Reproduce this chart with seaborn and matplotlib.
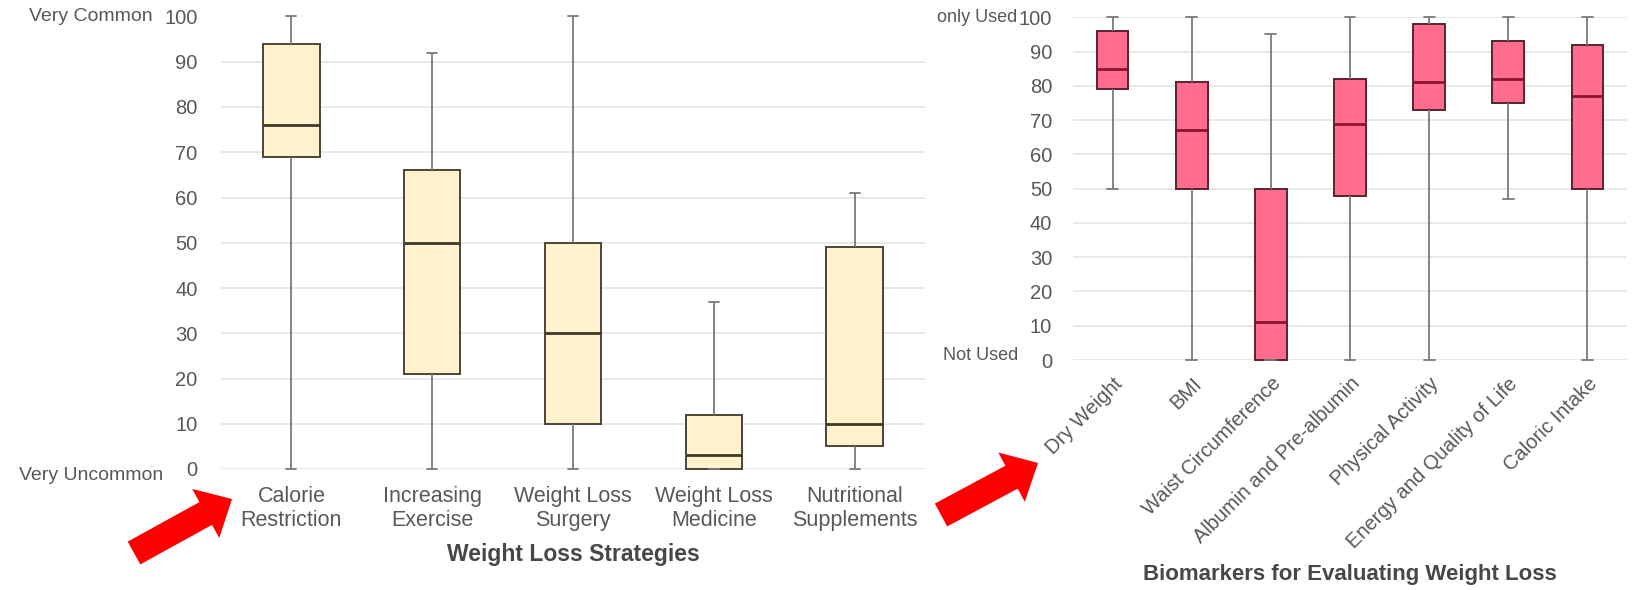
import matplotlib
matplotlib.use("Agg")
import matplotlib.pyplot as plt
from matplotlib.patches import FancyArrow
from matplotlib.transforms import IdentityTransform
import pandas as pd
import seaborn as sns

# Weight loss strategies: five-number summaries (0-100 scale)
strategies = ["Calorie\nRestriction", "Increasing\nExercise", "Weight Loss\nSurgery",
              "Weight Loss\nMedicine", "Nutritional\nSupplements"]
strat_min = [0, 0, 0, 0, 0]
strat_q1 = [69, 21, 10, 0, 5]
strat_med = [76, 50, 30, 3, 10]
strat_q3 = [94, 66, 50, 12, 49]
strat_max = [100, 92, 100, 37, 61]

# Biomarkers for evaluating weight loss: five-number summaries
biomarkers = ["Dry Weight", "BMI", "Waist Circumference", "Albumin and Pre-albumin",
              "Physical Activity", "Energy and Quality of Life", "Caloric Intake"]
bio_min = [50, 0, 0, 0, 0, 47, 0]
bio_q1 = [79, 50, 0, 48, 73, 75, 50]
bio_med = [85, 67, 11, 69, 81, 82, 77]
bio_q3 = [96, 81, 50, 82, 98, 93, 92]
bio_max = [100, 100, 95, 100, 100, 100, 100]

y_ticks = list(range(0, 101, 10))


def long_table(cats, lo, q1, med, q3, hi):
    rows = []
    for c, a, b, m, d, e in zip(cats, lo, q1, med, q3, hi):
        for v in (a, b, m, d, e):
            rows.append({"cat": c, "value": v})
    return pd.DataFrame(rows)


sns.set_theme(style="white")
plt.rcParams["font.family"] = ["Liberation Sans", "DejaVu Sans"]

fig = plt.figure(figsize=(16.4, 5.9), dpi=100)
ax1 = fig.add_axes([221 / 1640, 1 - 469 / 590, 704 / 1640, 452.5 / 590])
ax2 = fig.add_axes([1073 / 1640, 1 - 360 / 590, 554 / 1640, 342.7 / 590])

tick_color = "#585858"
label_color = "#474747"
whisk = dict(color="#7a7a7a", linewidth=1.3)


def draw(ax, df, order, fill, edge, median_color, cap_half):
    sns.boxplot(data=df, x="cat", y="value", order=order, ax=ax,
                whis=(0, 100), width=0.4, color=fill, saturation=1,
                linecolor=edge, linewidth=1.4, showfliers=False,
                medianprops=dict(color=median_color, linewidth=2),
                whiskerprops=whisk, capprops=whisk)
    for cont in ax.containers:
        if hasattr(cont, "caps"):
            for cap in cont.caps:
                xs = cap.get_xdata()
                c = (xs[0] + xs[1]) / 2
                cap.set_xdata([c - cap_half, c + cap_half])
    for art in list(ax.lines) + list(ax.patches):
        art.set_clip_on(False)
    ax.set_xlim(-0.5, len(order) - 0.5)
    ax.set_ylim(0, 100)
    ax.set_yticks(y_ticks)
    ax.yaxis.grid(True, color="#e4e4e4", linewidth=1.2)
    ax.set_axisbelow(True)
    for s in ax.spines.values():
        s.set_visible(False)
    ax.set_ylabel("")


# Left panel
df_s = long_table(strategies, strat_min, strat_q1, strat_med, strat_q3, strat_max)
draw(ax1, df_s, strategies, "#fff2cc", "#4d4536", "#3f3828", 0.036)
ax1.tick_params(axis="y", length=0, pad=17, labelsize=14.5, labelcolor=tick_color)
ax1.tick_params(axis="x", length=0, pad=12, labelsize=15.5, labelcolor=tick_color)
ax1.set_xlabel("Weight Loss Strategies", fontsize=16.5, fontweight="bold",
               color=label_color)
ax1.xaxis.set_label_coords(0.5, -0.188)
ax1.xaxis.label.set_va("center")
ytr1 = ax1.get_yaxis_transform()
ax1.text(-0.097, 100, "Very Common", transform=ytr1, ha="right", va="center",
         fontsize=14, color=tick_color)
ax1.text(-0.082, -1.4, "Very Uncommon", transform=ytr1, ha="right", va="center",
         fontsize=14, color=tick_color)

# Right panel
df_b = long_table(biomarkers, bio_min, bio_q1, bio_med, bio_q3, bio_max)
draw(ax2, df_b, biomarkers, "#ff6d8c", "#5a2230", "#8a1530", 0.068)
ax2.tick_params(axis="y", length=0, pad=15, labelsize=14.5, labelcolor=tick_color)
ax2.tick_params(axis="x", length=0, pad=10, labelsize=14.5, labelcolor=tick_color)
for lab in ax2.get_xticklabels():
    lab.set_rotation(45)
    lab.set_ha("right")
    lab.set_rotation_mode("anchor")
ax2.set_xlabel("Biomarkers for Evaluating Weight Loss", fontsize=16, fontweight="bold",
               color=label_color)
ax2.xaxis.set_label_coords(0.5, -0.627)
ax2.xaxis.label.set_va("center")
ytr2 = ax2.get_yaxis_transform()
ax2.text(-0.101, 100, "only Used", transform=ytr2, ha="right", va="center",
         fontsize=13, color=tick_color)
ax2.text(-0.099, 1.2, "Not Used", transform=ytr2, ha="right", va="center",
         fontsize=13, color=tick_color)

# Red pointer arrows (pixel coordinates, origin bottom-left)
for x0, y0, dx, dy in [(134, 37, 98, 54), (941, 75, 97, 52)]:
    fig.add_artist(FancyArrow(x0, y0, dx, dy, width=26, head_width=56, head_length=30,
                              length_includes_head=True, color="#ff0000", linewidth=0,
                              transform=IdentityTransform()))

fig.savefig("out.png", dpi=100)
